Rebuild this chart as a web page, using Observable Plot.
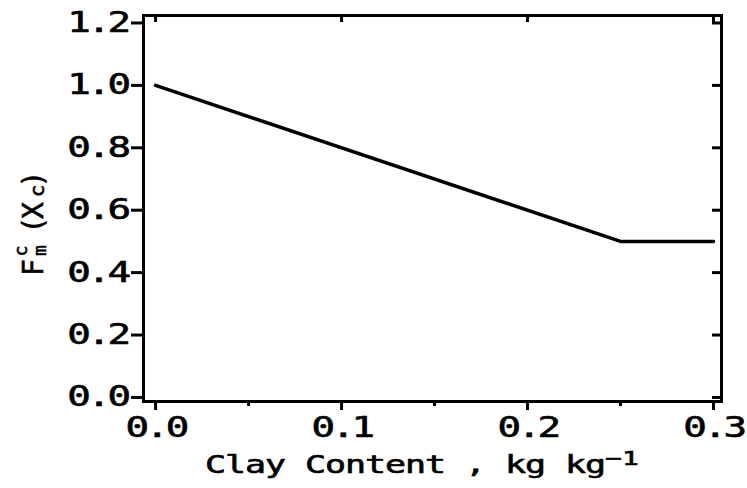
<!DOCTYPE html>
<html>
<head>
<meta charset="utf-8">
<script src="https://cdn.jsdelivr.net/npm/d3@7"></script>
<script src="https://cdn.jsdelivr.net/npm/@observablehq/plot@0.6"></script>
<style>
  html, body { margin: 0; padding: 0; background: #fff; }
</style>
</head>
<body>
<div id="chart"></div>
<script>
// Data
const clay = [0.0, 0.25, 0.3];          // kg kg^-1
const factor = [1.0, 0.5, 0.5];         // F_m^c(X_c)
const xTicks = [0.0, 0.1, 0.2, 0.3];
const xMinorTicks = [0.05, 0.15, 0.25];
const yTicks = [0.0, 0.2, 0.4, 0.6, 0.8, 1.0, 1.2];
const xDomain = [-0.0065, 0.3043];
const yDomain = [-0.013, 1.224];
const xLabelMain = "Clay Content , kg kg";
const xLabelSup = "\u22121";

const W = 747, H = 488;
const mL = 143, mR = 26, mT = 15, mB = 87;
const plotW = W - mL - mR, plotH = H - mT - mB;
const SX = 1.4; // horizontal stretch of the plotter-style lettering

const rows = clay.map((c, i) => ({clay: c, f: factor[i]}));
const fmt = d => d.toFixed(1);

const svg = Plot.plot({
  width: W, height: H,
  marginLeft: mL, marginRight: mR, marginTop: mT, marginBottom: mB,
  style: {
    fontFamily: "'DejaVu Sans Mono', monospace",
    fontSize: "28px",
    fontWeight: "normal",
    letterSpacing: "-2.5px",
    color: "#000",
    background: "#fff"
  },
  x: {domain: xDomain},
  y: {domain: yDomain},
  marks: [
    Plot.frame({stroke: "#000", strokeWidth: 3}),
    Plot.axisX({ticks: xTicks, tickFormat: fmt, tickSize: 9, tickPadding: 7, strokeWidth: 3, label: null}),
    Plot.tickX(xMinorTicks, {x: d => d, insetTop: plotH, insetBottom: -5, strokeWidth: 3}),
    Plot.tickX(xTicks, {x: d => d, insetBottom: plotH - 7, strokeWidth: 3}),
    Plot.axisY({ticks: yTicks, tickFormat: fmt, tickSize: 12, tickPadding: 4, strokeWidth: 3, label: null}),
    Plot.tickY(yTicks, {y: d => d, insetLeft: plotW - 9, strokeWidth: 3}),
    Plot.line(rows, {x: "clay", y: "f", stroke: "#000", strokeWidth: 3.5})
  ]
});

const s = d3.select(svg);

// stretch tick labels horizontally (wide plotter lettering)
s.selectAll("text").each(function () {
  const xa = this.getAttribute("x");
  let t = this.getAttribute("transform") || "";
  if (xa !== null && !isNaN(+xa)) {
    t = `translate(${+xa},0) ` + t;
    this.removeAttribute("x");
  }
  this.setAttribute("transform", (t + ` scale(${SX},1)`).trim());
});

// X axis title with superscript
const xt = s.append("text")
  .attr("transform", `translate(205,473) scale(${SX},1)`)
  .attr("text-anchor", "start")
  .attr("font-size", 25)
  .attr("letter-spacing", -0.76)
  .attr("fill", "#000");
xt.append("tspan").text(xLabelMain);
xt.append("tspan").attr("dx", 0).attr("dy", -8).attr("font-size", 20).attr("letter-spacing", 0).text(xLabelSup);

// Y axis title F_m^c (X_c), rotated
const yt = s.append("text")
  .attr("transform", "translate(43,273) rotate(-90)")
  .attr("text-anchor", "start")
  .attr("fill", "#000")
  .attr("letter-spacing", 0);
yt.append("tspan").attr("x", -3).attr("y", 0).text("F");
yt.append("tspan").attr("x", 16.5).attr("y", -16).attr("font-size", 18).text("c");
yt.append("tspan").attr("x", 17).attr("y", 3).attr("font-size", 18).text("m");
yt.append("tspan").attr("x", 39.5).attr("y", 0).text("(");
yt.append("tspan").attr("x", 54).attr("y", 0).text("X");
yt.append("tspan").attr("x", 76).attr("y", 1).attr("font-size", 20).text("c");
yt.append("tspan").attr("x", 85.5).attr("y", 0).text(")");

// heavier plotter-pen strokes on all lettering
s.selectAll("text").attr("stroke", "#000").attr("stroke-width", 0.6);

document.getElementById("chart").appendChild(svg);
</script>
</body>
</html>
